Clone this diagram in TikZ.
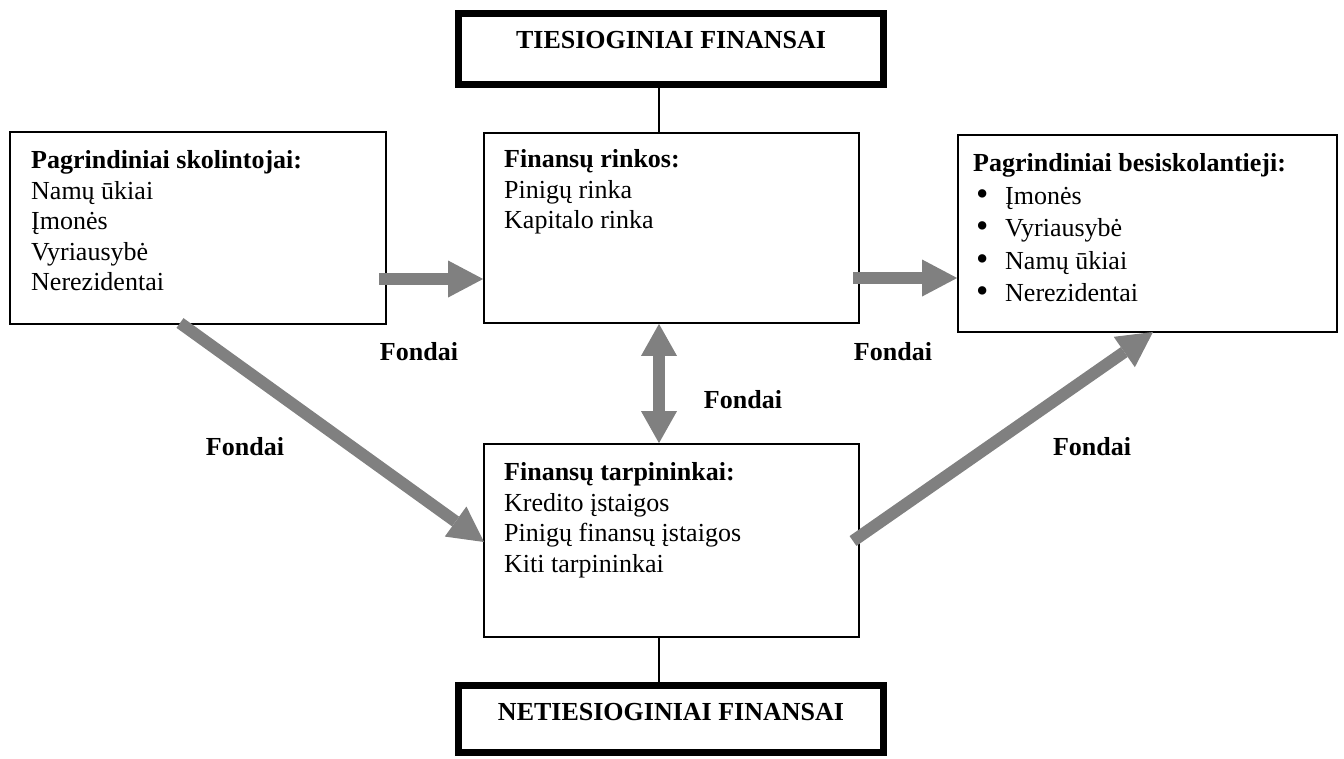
\documentclass[tikz,border=0pt]{standalone}
\usepackage{fontspec}
\setmainfont{Liberation Serif}
\usetikzlibrary{arrows.meta}
\definecolor{arrowgray}{RGB}{128,128,128}
\tikzset{
  box/.style={draw=black, line width=1.8pt, rectangle, inner sep=0pt},
  hdr/.style={draw=black, line width=7pt, rectangle, inner sep=0pt},
  hdrtext/.style={anchor=base, inner sep=0pt, font=\fontsize{26}{30}\selectfont\bfseries},
  boxtext/.style={anchor=north west, align=left, inner sep=0pt, font=\fontsize{26}{30.5}\selectfont},
  listtext/.style={anchor=north west, align=left, inner sep=0pt, font=\fontsize{26}{32.5}\selectfont},
  lbl/.style={anchor=base, inner sep=0pt, font=\fontsize{26}{30}\selectfont\bfseries},
  flow/.style={draw=arrowgray, line width=12pt, -{Triangle[length=35pt,width=37pt,line width=0pt]}},
  flowboth/.style={draw=arrowgray, line width=12pt, {Triangle[length=32pt,width=36pt,line width=0pt]}-{Triangle[length=32pt,width=36pt,line width=0pt]}},
  link/.style={draw=black, line width=2pt},
}
\newcommand{\bul}{\makebox[32pt][l]{\hspace{3pt}\raisebox{-1pt}{\scalebox{1.35}{•}}}}
\begin{document}
\begin{tikzpicture}[x=1pt, y=-1pt]
\useasboundingbox (0,0) rectangle (1344,758);

% header boxes
\node[hdr, minimum width=425pt, minimum height=71pt] (tophdr) at (671,49) {};
\node[hdrtext] (toptext) at (671,48) {TIESIOGINIAI FINANSAI};
\node[hdr, minimum width=425pt, minimum height=67pt] (bothdr) at (671,719) {};
\node[hdrtext] (bottext) at (671,720) {NETIESIOGINIAI FINANSAI};

% main boxes
\node[box, minimum width=376pt, minimum height=192pt] (lbox) at (198,228) {};
\node[box, minimum width=375pt, minimum height=190pt] (rinkos) at (671.5,228) {};
\node[box, minimum width=379pt, minimum height=197pt] (rbox) at (1147.5,233.5) {};
\node[box, minimum width=375pt, minimum height=193pt] (tarp) at (671.5,540.5) {};

% texts
\node[boxtext] (ltext) at (31,150.3) {\textbf{Pagrindiniai skolintojai:}\\Namų ūkiai\\Įmonės\\Vyriausybė\\Nerezidentai};
\node[boxtext] (rinktext) at (504,149.3) {\textbf{Finansų rinkos:}\\Pinigų rinka\\Kapitalo rinka};
\node[boxtext] (tarptext) at (504,462.3) {\textbf{Finansų tarpininkai:}\\Kredito įstaigos\\Pinigų finansų įstaigos\\Kiti tarpininkai};
\node[listtext] (rtext) at (973,153.3) {\textbf{Pagrindiniai besiskolantieji:}\\\bul Įmonės\\\bul Vyriausybė\\\bul Namų ūkiai\\\bul Nerezidentai};

% thin links
\coordinate (cx) at (659,0);
\draw[link] (tophdr.south -| cx) -- (rinkos.north -| cx);
\draw[link] (tarp.south -| cx) -- (bothdr.north -| cx);

% flows
\coordinate (a1) at (379,279);
\coordinate (a2) at (853,278);
\coordinate (a3) at (180,323);
\coordinate (a4) at (853,541);
\coordinate (t3) at (484,542);
\coordinate (t4) at (1153,332);
\draw[flow] (a1) -- (rinkos.west |- a1);
\draw[flow] (a2) -- (rbox.west |- a2);
\draw[flowboth] (rinkos.south -| cx) -- (tarp.north -| cx);
\draw[flow] (a3) -- (t3);
\draw[flow] (a4) -- (t4);

% labels
\node[lbl] (f1) at (419,360) {Fondai};
\node[lbl] (f2) at (893,360) {Fondai};
\node[lbl] (f3) at (743,408) {Fondai};
\node[lbl] (f4) at (245,455) {Fondai};
\node[lbl] (f5) at (1092,455) {Fondai};
\end{tikzpicture}
\end{document}
